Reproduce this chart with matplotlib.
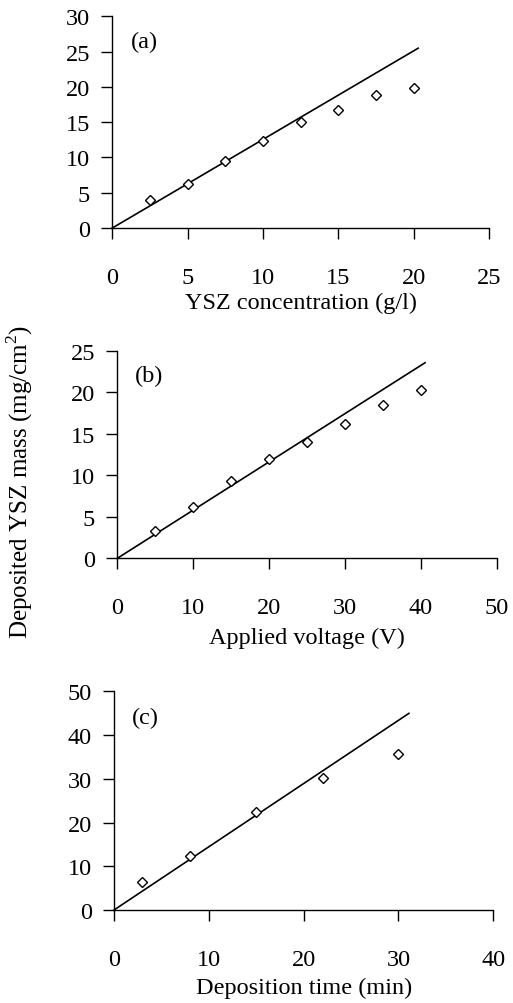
import matplotlib
matplotlib.use("Agg")
import matplotlib.pyplot as plt

plt.rcParams['font.family'] = ['Liberation Serif', 'DejaVu Serif']
plt.rcParams['mathtext.fontset'] = 'custom'
plt.rcParams['mathtext.rm'] = 'Liberation Serif'

# Panel (a): YSZ concentration
conc_x = [2.5, 5, 7.5, 10, 12.5, 15, 17.5, 20]
conc_y = [3.97, 6.24, 9.45, 12.38, 14.98, 16.77, 18.85, 19.8]
conc_fit_x = [0, 20.3]
conc_fit_y = [0, 25.5]

# Panel (b): applied voltage
volt_x = [5, 10, 15, 20, 25, 30, 35, 40]
volt_y = [3.29, 6.22, 9.27, 11.92, 13.96, 16.13, 18.42, 20.22]
volt_fit_x = [0, 40.55]
volt_fit_y = [0, 23.55]

# Panel (c): deposition time
time_x = [3, 8, 15, 22, 30]
time_y = [6.33, 12.35, 22.48, 30.18, 35.67]
time_fit_x = [0, 31.1]
time_fit_y = [0, 44.97]

panels = [
    dict(x=conc_x, y=conc_y, fx=conc_fit_x, fy=conc_fit_y, xlim=25, xstep=5, ylim=30, ystep=5,
         xlabel="YSZ concentration (g/l)", tag="(a)", lpad=2.5,
         rect=[0.2189, 0.7719, 0.7343, 0.2107]),
    dict(x=volt_x, y=volt_y, fx=volt_fit_x, fy=volt_fit_y, xlim=50, xstep=10, ylim=25, ystep=5,
         xlabel="Applied voltage (V)", tag="(b)", lpad=6.5,
         rect=[0.2287, 0.4429, 0.7396, 0.2068]),
    dict(x=time_x, y=time_y, fx=time_fit_x, fy=time_fit_y, xlim=40, xstep=10, ylim=50, ystep=10,
         xlabel="Deposition time (min)", tag="(c)", lpad=5,
         rect=[0.2222, 0.0926, 0.7394, 0.2178]),
]

fig = plt.figure(figsize=(5.13, 10.04), dpi=100)

fs = 17.5
for p in panels:
    ax = fig.add_axes(p['rect'])
    ax.plot(p['fx'], p['fy'], color='black', lw=1.2, clip_on=False)
    ax.plot(p['x'], p['y'], linestyle='none', marker='D', markersize=5,
            markerfacecolor='white', markeredgecolor='black', markeredgewidth=1.0, clip_on=False)
    ax.set_xlim(0, p['xlim'])
    ax.set_ylim(0, p['ylim'])
    ax.set_xticks(range(0, p['xlim'] + 1, p['xstep']))
    ax.set_yticks(range(0, p['ylim'] + 1, p['ystep']))
    for s in ['top', 'right']:
        ax.spines[s].set_visible(False)
    for s in ['left', 'bottom']:
        ax.spines[s].set_linewidth(1.0)
    ax.tick_params(axis='y', direction='out', length=8, width=1.0, labelsize=fs, pad=8)
    ax.tick_params(axis='x', direction='out', length=8, width=1.0, labelsize=fs, pad=20)
    ax.set_xlabel(p['xlabel'], fontsize=fs, labelpad=p['lpad'])
    ax.text(0.084, 0.88, p['tag'], transform=ax.transAxes, fontsize=fs,
            ha='center', va='center')

fig.text(20 / 513, 1 - 482 / 1004, "Deposited YSZ mass (mg/cm$^{2}$)", rotation=90,
         fontsize=18, ha='center', va='center')

fig.savefig("out.png", dpi=100)
